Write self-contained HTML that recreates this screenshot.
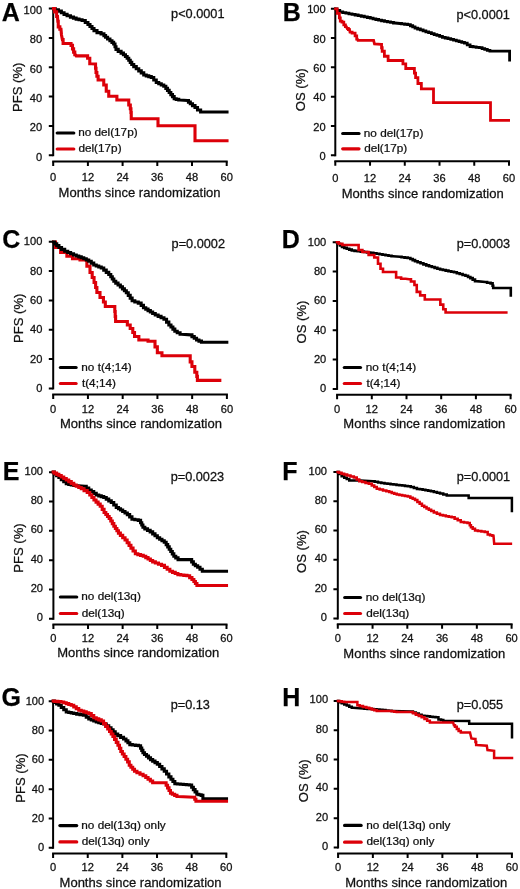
<!DOCTYPE html>
<html><head><meta charset="utf-8"><title>Kaplan-Meier survival curves</title>
<style>
html,body{margin:0;padding:0;background:#fff;}
body{width:520px;height:889px;overflow:hidden;}
svg{display:block;}
#w{width:520px;height:889px;will-change:transform;}
text{font-family:"Liberation Sans", sans-serif;fill:#111;stroke:#111;stroke-width:0.25px;}
.ax{fill:none;stroke:#000;stroke-width:2;}
.lg{fill:none;stroke:#000;stroke-width:3.2;stroke-linecap:round;}
.cv{fill:none;stroke-linejoin:miter;stroke-linecap:square;}
</style></head>
<body>
<div id="w">
<svg width="520" height="889" viewBox="0 0 520 889">
<rect width="520" height="889" fill="#fff"/>
<path d="M53.2 7.6V156.2" class="ax"/>
<path d="M48.8 155.2H53.2M48.8 125.88H53.2M48.8 96.56H53.2M48.8 67.24H53.2M48.8 37.92H53.2M48.8 8.6H53.2" class="ax"/>
<text transform="translate(42.1 160.53) scale(1.08 1)" text-anchor="end" style="font-size:10.3px">0</text>
<text transform="translate(42.1 131.21) scale(1.08 1)" text-anchor="end" style="font-size:10.3px">20</text>
<text transform="translate(42.1 101.89) scale(1.08 1)" text-anchor="end" style="font-size:10.3px">40</text>
<text transform="translate(42.1 72.57) scale(1.08 1)" text-anchor="end" style="font-size:10.3px">60</text>
<text transform="translate(42.1 43.25) scale(1.08 1)" text-anchor="end" style="font-size:10.3px">80</text>
<text transform="translate(42.1 13.93) scale(1.08 1)" text-anchor="end" style="font-size:10.3px">100</text>
<path d="M52.2 161.4H227.7" class="ax"/>
<path d="M53.2 161.4V165.9M87.9 161.4V165.9M122.6 161.4V165.9M157.3 161.4V165.9M192 161.4V165.9M226.7 161.4V165.9" class="ax"/>
<text transform="translate(53.2 181.16) scale(1.08 1)" text-anchor="middle" style="font-size:10.3px">0</text>
<text transform="translate(87.9 181.16) scale(1.08 1)" text-anchor="middle" style="font-size:10.3px">12</text>
<text transform="translate(122.6 181.16) scale(1.08 1)" text-anchor="middle" style="font-size:10.3px">24</text>
<text transform="translate(157.3 181.16) scale(1.08 1)" text-anchor="middle" style="font-size:10.3px">36</text>
<text transform="translate(192 181.16) scale(1.08 1)" text-anchor="middle" style="font-size:10.3px">48</text>
<text transform="translate(226.7 181.16) scale(1.08 1)" text-anchor="middle" style="font-size:10.3px">60</text>
<text transform="translate(58.56 196.59) scale(1.05 1)" style="font-size:12.4px">Months since randomization</text>
<text transform="translate(22.23 112.05) rotate(-90) scale(1.1 1)" style="font-size:11.9px">PFS (%)</text>
<text transform="translate(1.67 21.35)" style="font-size:25px;font-weight:bold;fill:#000">A</text>
<text transform="translate(171.07 18.48) scale(1.07 1)" style="font-size:11.9px">p&lt;0.0001</text>
<path d="M57.2 133H73.8" class="lg"/>
<path d="M57.2 149H73.8" class="lg" style="stroke:#dc0009"/>
<text transform="translate(78.13 136.1) scale(1.1 1)" style="font-size:10.7px">no del(17p)</text>
<text transform="translate(78.43 152.1) scale(1.1 1)" style="font-size:10.7px">del(17p)</text>
<path d="M53.5 8.6 L55.12 8.6 L55.12 9.85 L58.38 9.85 L58.38 11.1 L60 11.1 L61.35 11.1 L61.35 12.75 L64.05 12.75 L64.05 14.4 L65.4 14.4 L67.08 14.4 L67.08 15.75 L70.42 15.75 L70.42 17.1 L72.1 17.1 L73.45 17.1 L73.45 18.1 L76.15 18.1 L76.15 19.1 L77.5 19.1 L79.03 19.1 L79.03 19.8 L82.07 19.8 L82.07 20.5 L83.6 20.5 L85.25 20.5 L85.25 22.5 L86.9 22.5 L87.93 22.5 L87.93 24.5 L89.97 24.5 L89.97 26.5 L91 26.5 L92 26.5 L92 28.55 L94 28.55 L94 30.6 L95 30.6 L97 30.6 L97 32.6 L99 32.6 L101.05 32.6 L101.05 33.9 L103.1 33.9 L103.92 33.9 L103.92 35.6 L105.58 35.6 L105.58 37.3 L106.4 37.3 L107.58 37.3 L107.58 39 L109.92 39 L109.92 40.7 L111.1 40.7 L111.95 40.7 L111.95 42.35 L113.65 42.35 L113.65 44 L114.5 44 L115 44 L115 46.7 L116 46.7 L116 49.4 L116.5 49.4 L118.2 49.4 L118.2 51.4 L119.9 51.4 L121.08 51.4 L121.08 53.1 L123.42 53.1 L123.42 54.8 L124.6 54.8 L125.45 54.8 L125.45 56.5 L127.15 56.5 L127.15 58.2 L128 58.2 L128.75 58.2 L128.75 60.3 L130.25 60.3 L130.25 62.4 L131.75 62.4 L131.75 64.5 L132.5 64.5 L133.75 64.5 L133.75 66.62 L136.25 66.62 L136.25 68.75 L137.5 68.75 L138.75 68.75 L138.75 70.83 L141.25 70.83 L141.25 72.92 L143.75 72.92 L143.75 75 L145 75 L146.25 75 L146.25 75.83 L148.75 75.83 L148.75 76.67 L151.25 76.67 L151.25 77.5 L152.5 77.5 L153.75 77.5 L153.75 80 L156.25 80 L156.25 82.5 L157.5 82.5 L158.75 82.5 L158.75 83.75 L161.25 83.75 L161.25 85 L163.75 85 L163.75 86.25 L165 86.25 L165.83 86.25 L165.83 88.33 L167.5 88.33 L167.5 90.42 L169.17 90.42 L169.17 92.5 L170 92.5 L170.83 92.5 L170.83 94.58 L172.5 94.58 L172.5 96.67 L174.17 96.67 L174.17 98.75 L175 98.75 L176.25 98.75 L176.25 99.38 L178.75 99.38 L178.75 100 L180 100 L187.5 100.5 L188.44 100.5 L188.44 102.12 L190.31 102.12 L190.31 103.75 L191.25 103.75 L192.5 103.75 L192.5 105.62 L195 105.62 L195 107.5 L196.25 107.5 L197.5 107.5 L197.5 110 L198.75 110 L200.62 110 L200.62 112 L202.5 112 L227 112" class="cv" stroke="#000" stroke-width="3.1"/>
<path d="M53.5 8.6 L54.65 8.6 L54.65 11.9 L55.8 11.9 L56.65 11.9 L56.65 16.5 L57.5 16.5 L57.8 21.2 L58.25 21.2 L58.25 26.9 L58.7 26.9 L59.85 26.9 L59.85 29.2 L61 29.2 L61.5 35 L62.4 39.6 L63.1 39.6 L63.1 43.5 L63.8 43.5 L70.2 43.5 L71.05 43.5 L71.05 45.4 L71.9 45.4 L72.5 45.4 L72.5 48.9 L73.1 48.9 L73.6 48.9 L73.6 52.1 L74.1 52.1 L74.8 52.1 L74.8 54.8 L75.5 54.8 L76.2 55.9 L86.9 55.9 L87.6 55.9 L87.6 58.2 L88.3 58.2 L89.78 58.2 L89.78 63.75 L91.25 63.75 L95.3 64 L95.54 64 L95.54 68.25 L96.01 68.25 L96.01 72.5 L96.25 72.5 L96.88 72.5 L96.88 76.25 L98.12 76.25 L98.12 80 L98.75 80 L102.5 80 L103.75 80 L103.75 85 L105 85 L106.25 85 L106.25 91.25 L107.5 91.25 L108.75 91.25 L108.75 96.25 L110 96.25 L116.25 96.25 L116.88 96.25 L116.88 100 L117.5 100 L127.5 100 L128.75 100 L128.75 105 L130 105 L130.31 105 L130.31 108.75 L130.94 108.75 L130.94 112.5 L131.25 112.5 L131.25 118.75 L158 118.75 L158 125.75 L195 125.75 L195 140.75 L227 140.75" class="cv" stroke="#dc0009" stroke-width="3.1"/>
<path d="M335.3 7.7V156.3" class="ax"/>
<path d="M330.9 155.3H335.3M330.9 125.98H335.3M330.9 96.66H335.3M330.9 67.34H335.3M330.9 38.02H335.3M330.9 8.7H335.3" class="ax"/>
<text transform="translate(325.7 159.83) scale(1.08 1)" text-anchor="end" style="font-size:10.3px">0</text>
<text transform="translate(325.7 130.51) scale(1.08 1)" text-anchor="end" style="font-size:10.3px">20</text>
<text transform="translate(325.7 101.19) scale(1.08 1)" text-anchor="end" style="font-size:10.3px">40</text>
<text transform="translate(325.7 71.87) scale(1.08 1)" text-anchor="end" style="font-size:10.3px">60</text>
<text transform="translate(325.7 42.55) scale(1.08 1)" text-anchor="end" style="font-size:10.3px">80</text>
<text transform="translate(325.7 13.23) scale(1.08 1)" text-anchor="end" style="font-size:10.3px">100</text>
<path d="M334.3 161.3H510" class="ax"/>
<path d="M335.3 161.3V165.8M370.04 161.3V165.8M404.78 161.3V165.8M439.52 161.3V165.8M474.26 161.3V165.8M509 161.3V165.8" class="ax"/>
<text transform="translate(335.3 181.66) scale(1.08 1)" text-anchor="middle" style="font-size:10.3px">0</text>
<text transform="translate(370.04 181.66) scale(1.08 1)" text-anchor="middle" style="font-size:10.3px">12</text>
<text transform="translate(404.78 181.66) scale(1.08 1)" text-anchor="middle" style="font-size:10.3px">24</text>
<text transform="translate(439.52 181.66) scale(1.08 1)" text-anchor="middle" style="font-size:10.3px">36</text>
<text transform="translate(474.26 181.66) scale(1.08 1)" text-anchor="middle" style="font-size:10.3px">48</text>
<text transform="translate(509 181.66) scale(1.08 1)" text-anchor="middle" style="font-size:10.3px">60</text>
<text transform="translate(341.66 197.69) scale(1.05 1)" style="font-size:12.4px">Months since randomization</text>
<text transform="translate(305.43 111.19) rotate(-90) scale(1.1 1)" style="font-size:11.9px">OS (%)</text>
<text transform="translate(282.67 21.05)" style="font-size:25px;font-weight:bold;fill:#000">B</text>
<text transform="translate(456.47 18.73) scale(1.07 1)" style="font-size:11.9px">p&lt;0.0001</text>
<path d="M342.7 133.5H359" class="lg"/>
<path d="M342.7 148.8H359" class="lg" style="stroke:#dc0009"/>
<text transform="translate(363.83 136.6) scale(1.1 1)" style="font-size:10.7px">no del(17p)</text>
<text transform="translate(364.13 151.9) scale(1.1 1)" style="font-size:10.7px">del(17p)</text>
<path d="M335.5 8.8 L336.93 8.8 L336.93 10.35 L339.77 10.35 L339.77 11.9 L341.2 11.9 L342.75 11.9 L342.75 12.53 L345.85 12.53 L345.85 13.17 L348.95 13.17 L348.95 13.8 L350.5 13.8 L352.03 13.8 L352.03 14.4 L355.1 14.4 L355.1 15 L358.17 15 L358.17 15.6 L359.7 15.6 L361.23 15.6 L361.23 16.23 L364.3 16.23 L364.3 16.87 L367.37 16.87 L367.37 17.5 L368.9 17.5 L370.29 17.5 L370.29 18.18 L373.06 18.18 L373.06 18.85 L375.84 18.85 L375.84 19.52 L378.61 19.52 L378.61 20.2 L380 20.2 L381.5 20.2 L381.5 20.76 L384.5 20.76 L384.5 21.32 L387.5 21.32 L387.5 21.88 L390.5 21.88 L390.5 22.44 L393.5 22.44 L393.5 23 L395 23 L400 23.5 L401.53 23.5 L401.53 23.87 L404.6 23.87 L404.6 24.23 L407.67 24.23 L407.67 24.6 L409.2 24.6 L410.37 24.6 L410.37 25.77 L412.7 25.77 L412.7 26.93 L415.03 26.93 L415.03 28.1 L416.2 28.1 L417.58 28.1 L417.58 29.02 L420.34 29.02 L420.34 29.94 L423.1 29.94 L423.1 30.86 L425.86 30.86 L425.86 31.78 L428.62 31.78 L428.62 32.7 L430 32.7 L431.38 32.7 L431.38 33.62 L434.14 33.62 L434.14 34.54 L436.9 34.54 L436.9 35.46 L439.66 35.46 L439.66 36.38 L442.42 36.38 L442.42 37.3 L443.8 37.3 L445.19 37.3 L445.19 38 L447.97 38 L447.97 38.7 L450.75 38.7 L450.75 39.4 L453.53 39.4 L453.53 40.1 L456.31 40.1 L456.31 40.8 L457.7 40.8 L459.05 40.8 L459.05 41.57 L461.75 41.57 L461.75 42.33 L464.45 42.33 L464.45 43.1 L465.8 43.1 L467.23 43.1 L467.23 44.8 L470.07 44.8 L470.07 46.5 L471.5 46.5 L473.05 46.5 L473.05 46.9 L476.15 46.9 L476.15 47.3 L479.25 47.3 L479.25 47.7 L480.8 47.7 L482.1 47.7 L482.1 48.58 L484.7 48.58 L484.7 49.45 L487.3 49.45 L487.3 50.33 L489.9 50.33 L489.9 51.2 L491.2 51.2 L509.6 51.2 L509.6 60.1" class="cv" stroke="#000" stroke-width="2.8"/>
<path d="M335.5 8.8 L337.2 8.8 L337.2 13.3 L338.9 13.3 L339.35 13.3 L339.35 17.9 L339.8 17.9 L340.3 17.9 L340.3 21.2 L340.8 21.2 L341.95 21.2 L341.95 22.1 L343.1 22.1 L343.8 22.1 L343.8 24.9 L344.5 24.9 L345.4 24.9 L345.4 26.7 L346.3 26.7 L347.2 28.5 L348.35 28.5 L348.35 29.5 L349.5 29.5 L350 32.2 L352.1 32.2 L352.1 33.2 L354.2 33.2 L355.1 33.2 L355.1 35.9 L356 35.9 L356.7 35.9 L356.7 39.2 L357.4 39.2 L357.9 40.3 L373.6 40.3 L374.5 44 L381.25 44.3 L381.56 44.3 L381.56 47.77 L382.19 47.77 L382.19 51.25 L382.5 51.25 L384.38 51.25 L384.38 56.25 L386.25 56.25 L388.12 56.25 L388.12 60.5 L390 60.5 L401.25 60.5 L402.93 60.5 L402.93 63.8 L404.6 63.8 L405.75 63.8 L405.75 68.5 L406.9 68.5 L413.8 68.5 L414.4 68.5 L414.4 73.1 L415.6 73.1 L415.6 77.7 L416.2 77.7 L417.9 77.7 L417.9 83.5 L419.6 83.5 L421.35 83.5 L421.35 88.8 L423.1 88.8 L433.5 88.8 L433.5 102.6 L490.5 102.6 L490.5 120.4 L508.6 120.4" class="cv" stroke="#dc0009" stroke-width="2.8"/>
<path d="M53.2 240.8V389.4" class="ax"/>
<path d="M48.8 388.4H53.2M48.8 359.08H53.2M48.8 329.76H53.2M48.8 300.44H53.2M48.8 271.12H53.2M48.8 241.8H53.2" class="ax"/>
<text transform="translate(42.4 391.83) scale(1.08 1)" text-anchor="end" style="font-size:10.3px">0</text>
<text transform="translate(42.4 362.51) scale(1.08 1)" text-anchor="end" style="font-size:10.3px">20</text>
<text transform="translate(42.4 333.19) scale(1.08 1)" text-anchor="end" style="font-size:10.3px">40</text>
<text transform="translate(42.4 303.87) scale(1.08 1)" text-anchor="end" style="font-size:10.3px">60</text>
<text transform="translate(42.4 274.55) scale(1.08 1)" text-anchor="end" style="font-size:10.3px">80</text>
<text transform="translate(42.4 245.23) scale(1.08 1)" text-anchor="end" style="font-size:10.3px">100</text>
<path d="M52.2 394.4H227.9" class="ax"/>
<path d="M53.2 394.4V398.9M87.94 394.4V398.9M122.68 394.4V398.9M157.42 394.4V398.9M192.16 394.4V398.9M226.9 394.4V398.9" class="ax"/>
<text transform="translate(53.2 412.86) scale(1.08 1)" text-anchor="middle" style="font-size:10.3px">0</text>
<text transform="translate(87.94 412.86) scale(1.08 1)" text-anchor="middle" style="font-size:10.3px">12</text>
<text transform="translate(122.68 412.86) scale(1.08 1)" text-anchor="middle" style="font-size:10.3px">24</text>
<text transform="translate(157.42 412.86) scale(1.08 1)" text-anchor="middle" style="font-size:10.3px">36</text>
<text transform="translate(192.16 412.86) scale(1.08 1)" text-anchor="middle" style="font-size:10.3px">48</text>
<text transform="translate(226.9 412.86) scale(1.08 1)" text-anchor="middle" style="font-size:10.3px">60</text>
<text transform="translate(59.96 428.09) scale(1.05 1)" style="font-size:12.4px">Months since randomization</text>
<text transform="translate(22.63 343.05) rotate(-90) scale(1.1 1)" style="font-size:11.9px">PFS (%)</text>
<text transform="translate(2.2 248.4)" style="font-size:25px;font-weight:bold;fill:#000">C</text>
<text transform="translate(171.57 248.03) scale(1.07 1)" style="font-size:11.9px">p=0.0002</text>
<path d="M60.4 367.5H76.1" class="lg"/>
<path d="M60.4 383.5H76.1" class="lg" style="stroke:#dc0009"/>
<text transform="translate(81.33 370.6) scale(1.1 1)" style="font-size:10.7px">no t(4;14)</text>
<text transform="translate(81.92 386.6) scale(1.1 1)" style="font-size:10.7px">t(4;14)</text>
<path d="M53.5 242 L55.5 242 L55.5 247.5 L57.5 247.5 L60.62 247.5 L60.62 252.5 L63.75 252.5 L66.88 252.5 L66.88 256.25 L70 256.25 L72.5 256.25 L72.5 258.75 L75 258.75 L80 258.75 L80 260 L85 260 L86.88 260 L86.88 266.25 L88.75 266.25 L90 266.25 L90 272.5 L91.25 272.5 L92.19 272.5 L92.19 277.5 L94.06 277.5 L94.06 282.5 L95 282.5 L95.62 282.5 L95.62 287.5 L96.88 287.5 L96.88 292.5 L97.5 292.5 L100 292.5 L100 297.5 L102.5 297.5 L103.44 297.5 L103.44 302 L105.31 302 L105.31 306.5 L106.25 306.5 L114.6 306.5 L114.8 306.5 L114.8 311.5 L115.2 311.5 L115.2 316.5 L115.6 316.5 L115.6 321.5 L115.8 321.5 L126.2 321.5 L127.35 321.5 L127.35 325 L128.5 325 L130.2 325 L130.2 328.5 L131.9 328.5 L132.78 328.5 L132.78 332.5 L134.53 332.5 L134.53 336.5 L135.4 336.5 L138.85 336.5 L138.85 340 L142.3 340 L148.05 340 L148.05 341.2 L153.8 341.2 L155 341.2 L155 346.9 L156.2 346.9 L157.35 346.9 L157.35 352.7 L158.5 352.7 L161.95 352.7 L161.95 355.7 L165.4 355.7 L189.6 355.7 L190.2 355.7 L190.2 361.9 L190.8 361.9 L191.95 361.9 L191.95 366.5 L193.1 366.5 L194.8 366.5 L194.8 372.3 L196.5 372.3 L196.8 372.3 L196.8 376.35 L197.4 376.35 L197.4 380.4 L197.7 380.4 L219.8 380.4" class="cv" stroke="#dc0009" stroke-width="3.1"/>
<path d="M53.5 242 L54.58 242 L54.58 243.83 L56.75 243.83 L56.75 245.67 L58.92 245.67 L58.92 247.5 L60 247.5 L61.56 247.5 L61.56 249.38 L64.69 249.38 L64.69 251.25 L66.25 251.25 L67.71 251.25 L67.71 252.5 L70.62 252.5 L70.62 253.75 L73.54 253.75 L73.54 255 L75 255 L76.25 255 L76.25 255.94 L78.75 255.94 L78.75 256.88 L81.25 256.88 L81.25 257.81 L83.75 257.81 L83.75 258.75 L85 258.75 L86.25 258.75 L86.25 260 L88.75 260 L88.75 261.25 L90 261.25 L91.25 261.25 L91.25 263.12 L93.75 263.12 L93.75 265 L95 265 L96.25 265 L96.25 266 L98.75 266 L98.75 267 L101.25 267 L101.25 268 L102.5 268 L103.75 268 L103.75 270.17 L106.25 270.17 L106.25 272.33 L108.75 272.33 L108.75 274.5 L110 274.5 L110.77 274.5 L110.77 276.73 L112.3 276.73 L112.3 278.97 L113.83 278.97 L113.83 281.2 L114.6 281.2 L115.75 281.2 L115.75 283.1 L118.05 283.1 L118.05 285 L120.35 285 L120.35 286.9 L121.5 286.9 L122.47 286.9 L122.47 288.83 L124.4 288.83 L124.4 290.77 L126.33 290.77 L126.33 292.7 L127.3 292.7 L128.27 292.7 L128.27 295.4 L130.2 295.4 L130.2 298.1 L132.13 298.1 L132.13 300.8 L133.1 300.8 L134.82 300.8 L134.82 301.95 L138.28 301.95 L138.28 303.1 L140 303.1 L141.15 303.1 L141.15 305.4 L143.45 305.4 L143.45 307.7 L144.6 307.7 L145.75 307.7 L145.75 309.15 L148.05 309.15 L148.05 310.6 L150.35 310.6 L150.35 312.05 L152.65 312.05 L152.65 313.5 L153.8 313.5 L155.25 313.5 L155.25 314.93 L158.15 314.93 L158.15 316.35 L161.05 316.35 L161.05 317.77 L163.95 317.77 L163.95 319.2 L165.4 319.2 L166.55 319.2 L166.55 322.1 L168.85 322.1 L168.85 325 L170 325 L170.97 325 L170.97 327.07 L172.9 327.07 L172.9 329.13 L174.83 329.13 L174.83 331.2 L175.8 331.2 L177.23 331.2 L177.23 332.7 L180.07 332.7 L180.07 334.2 L181.5 334.2 L190.8 334.9 L191.95 334.9 L191.95 336.6 L194.25 336.6 L194.25 338.3 L196.55 338.3 L196.55 340 L197.7 340 L198.95 340 L198.95 341.15 L201.45 341.15 L201.45 342.3 L202.7 342.3 L226.8 342.3" class="cv" stroke="#000" stroke-width="3.1"/>
<path d="M337.1 241.3V389.9" class="ax"/>
<path d="M332.7 388.9H337.1M332.7 359.58H337.1M332.7 330.26H337.1M332.7 300.94H337.1M332.7 271.62H337.1M332.7 242.3H337.1" class="ax"/>
<text transform="translate(326.3 392.43) scale(1.08 1)" text-anchor="end" style="font-size:10.3px">0</text>
<text transform="translate(326.3 363.11) scale(1.08 1)" text-anchor="end" style="font-size:10.3px">20</text>
<text transform="translate(326.3 333.79) scale(1.08 1)" text-anchor="end" style="font-size:10.3px">40</text>
<text transform="translate(326.3 304.47) scale(1.08 1)" text-anchor="end" style="font-size:10.3px">60</text>
<text transform="translate(326.3 275.15) scale(1.08 1)" text-anchor="end" style="font-size:10.3px">80</text>
<text transform="translate(326.3 245.83) scale(1.08 1)" text-anchor="end" style="font-size:10.3px">100</text>
<path d="M336.1 394.7H511.6" class="ax"/>
<path d="M337.1 394.7V399.2M371.8 394.7V399.2M406.5 394.7V399.2M441.2 394.7V399.2M475.9 394.7V399.2M510.6 394.7V399.2" class="ax"/>
<text transform="translate(337.1 412.86) scale(1.08 1)" text-anchor="middle" style="font-size:10.3px">0</text>
<text transform="translate(371.8 412.86) scale(1.08 1)" text-anchor="middle" style="font-size:10.3px">12</text>
<text transform="translate(406.5 412.86) scale(1.08 1)" text-anchor="middle" style="font-size:10.3px">24</text>
<text transform="translate(441.2 412.86) scale(1.08 1)" text-anchor="middle" style="font-size:10.3px">36</text>
<text transform="translate(475.9 412.86) scale(1.08 1)" text-anchor="middle" style="font-size:10.3px">48</text>
<text transform="translate(510.6 412.86) scale(1.08 1)" text-anchor="middle" style="font-size:10.3px">60</text>
<text transform="translate(343.36 428.39) scale(1.05 1)" style="font-size:12.4px">Months since randomization</text>
<text transform="translate(306.03 343.49) rotate(-90) scale(1.1 1)" style="font-size:11.9px">OS (%)</text>
<text transform="translate(281.77 248.25)" style="font-size:25px;font-weight:bold;fill:#000">D</text>
<text transform="translate(456.77 248.03) scale(1.07 1)" style="font-size:11.9px">p=0.0003</text>
<path d="M344.3 367.5H360.5" class="lg"/>
<path d="M344.3 383.5H360.5" class="lg" style="stroke:#dc0009"/>
<text transform="translate(365.83 370.6) scale(1.1 1)" style="font-size:10.7px">no t(4;14)</text>
<text transform="translate(366.42 386.6) scale(1.1 1)" style="font-size:10.7px">t(4;14)</text>
<path d="M337 242.3 L338 242.3 L338 243.87 L340 243.87 L340 245.43 L342 245.43 L342 247 L343 247 L344.25 247 L344.25 247.88 L346.75 247.88 L346.75 248.75 L349.25 248.75 L349.25 249.62 L351.75 249.62 L351.75 250.5 L353 250.5 L354.56 250.5 L354.56 250.88 L357.69 250.88 L357.69 251.25 L360.81 251.25 L360.81 251.62 L363.94 251.62 L363.94 252 L365.5 252 L367.06 252 L367.06 252.44 L370.19 252.44 L370.19 252.88 L373.31 252.88 L373.31 253.31 L376.44 253.31 L376.44 253.75 L378 253.75 L379.5 253.75 L379.5 254.25 L382.5 254.25 L382.5 254.75 L385.5 254.75 L385.5 255.25 L388.5 255.25 L388.5 255.75 L391.5 255.75 L391.5 256.25 L393 256.25 L400 256.8 L401.53 256.8 L401.53 257.2 L404.6 257.2 L404.6 257.6 L407.67 257.6 L407.67 258 L409.2 258 L410.37 258 L410.37 259.07 L412.7 259.07 L412.7 260.13 L415.03 260.13 L415.03 261.2 L416.2 261.2 L417.64 261.2 L417.64 262.25 L420.51 262.25 L420.51 263.3 L423.39 263.3 L423.39 264.35 L426.26 264.35 L426.26 265.4 L427.7 265.4 L429.08 265.4 L429.08 266.22 L431.84 266.22 L431.84 267.04 L434.6 267.04 L434.6 267.86 L437.36 267.86 L437.36 268.68 L440.12 268.68 L440.12 269.5 L441.5 269.5 L442.89 269.5 L442.89 270.06 L445.67 270.06 L445.67 270.62 L448.45 270.62 L448.45 271.18 L451.23 271.18 L451.23 271.74 L454.01 271.74 L454.01 272.3 L455.4 272.3 L456.84 272.3 L456.84 273.18 L459.71 273.18 L459.71 274.05 L462.59 274.05 L462.59 274.93 L465.46 274.93 L465.46 275.8 L466.9 275.8 L468.05 275.8 L468.05 276.95 L470.35 276.95 L470.35 278.1 L471.5 278.1 L472.68 278.1 L472.68 279.6 L475.02 279.6 L475.02 281.1 L476.2 281.1 L485.4 282 L487.12 282 L487.12 282.7 L490.57 282.7 L490.57 283.4 L492.3 283.4 L492.6 283.4 L492.6 285.7 L493.2 285.7 L493.2 288 L493.5 288 L510.8 288 L510.8 295.5" class="cv" stroke="#000" stroke-width="2.6"/>
<path d="M337 242.3 L338.75 242.3 L338.75 243.75 L340.5 243.75 L342.38 243.75 L342.38 245 L344.25 245 L358 245 L358.62 245 L358.62 250 L359.25 250 L362.38 250 L362.38 252 L365.5 252 L368.62 252 L368.62 255 L371.75 255 L374.25 255 L374.25 257.5 L376.75 257.5 L378 257.5 L378 263.75 L379.25 263.75 L380.5 263.75 L380.5 268.75 L381.75 268.75 L383 268.75 L383 272 L384.25 272 L395.5 272 L396.12 272 L396.12 277.5 L396.75 277.5 L401.12 277.5 L401.12 278.75 L405.5 278.75 L409.2 279.2 L410.95 279.2 L410.95 281.5 L412.7 281.5 L414.45 281.5 L414.45 285 L416.2 285 L416.75 285 L416.75 291.9 L417.3 291.9 L420.2 291.9 L420.2 295.4 L423.1 295.4 L424.8 295.4 L424.8 299.5 L426.5 299.5 L439.2 299.5 L440.35 299.5 L440.35 304.6 L441.5 304.6 L443.25 304.6 L443.25 309.2 L445 309.2 L445.6 309.2 L445.6 312.5 L446.2 312.5 L506.3 312.5" class="cv" stroke="#dc0009" stroke-width="2.6"/>
<path d="M53.4 471.2V619.8" class="ax"/>
<path d="M49 618.8H53.4M49 589.48H53.4M49 560.16H53.4M49 530.84H53.4M49 501.52H53.4M49 472.2H53.4" class="ax"/>
<text transform="translate(43 621.43) scale(1.08 1)" text-anchor="end" style="font-size:10.3px">0</text>
<text transform="translate(43 592.11) scale(1.08 1)" text-anchor="end" style="font-size:10.3px">20</text>
<text transform="translate(43 562.79) scale(1.08 1)" text-anchor="end" style="font-size:10.3px">40</text>
<text transform="translate(43 533.47) scale(1.08 1)" text-anchor="end" style="font-size:10.3px">60</text>
<text transform="translate(43 504.15) scale(1.08 1)" text-anchor="end" style="font-size:10.3px">80</text>
<text transform="translate(43 474.83) scale(1.08 1)" text-anchor="end" style="font-size:10.3px">100</text>
<path d="M52.4 624.6H227.5" class="ax"/>
<path d="M53.4 624.6V629.1M88.02 624.6V629.1M122.64 624.6V629.1M157.26 624.6V629.1M191.88 624.6V629.1M226.5 624.6V629.1" class="ax"/>
<text transform="translate(53.4 642.06) scale(1.08 1)" text-anchor="middle" style="font-size:10.3px">0</text>
<text transform="translate(88.02 642.06) scale(1.08 1)" text-anchor="middle" style="font-size:10.3px">12</text>
<text transform="translate(122.64 642.06) scale(1.08 1)" text-anchor="middle" style="font-size:10.3px">24</text>
<text transform="translate(157.26 642.06) scale(1.08 1)" text-anchor="middle" style="font-size:10.3px">36</text>
<text transform="translate(191.88 642.06) scale(1.08 1)" text-anchor="middle" style="font-size:10.3px">48</text>
<text transform="translate(226.5 642.06) scale(1.08 1)" text-anchor="middle" style="font-size:10.3px">60</text>
<text transform="translate(57.26 657.49) scale(1.05 1)" style="font-size:12.4px">Months since randomization</text>
<text transform="translate(22.63 572.75) rotate(-90) scale(1.1 1)" style="font-size:11.9px">PFS (%)</text>
<text transform="translate(2.78 479.55)" style="font-size:25px;font-weight:bold;fill:#000">E</text>
<text transform="translate(170.67 481.33) scale(1.07 1)" style="font-size:11.9px">p=0.0023</text>
<path d="M60.4 597H76.7" class="lg"/>
<path d="M60.4 613.5H76.7" class="lg" style="stroke:#dc0009"/>
<text transform="translate(81.33 600.1) scale(1.1 1)" style="font-size:10.7px">no del(13q)</text>
<text transform="translate(81.63 616.6) scale(1.1 1)" style="font-size:10.7px">del(13q)</text>
<path d="M53.2 472 L54.33 472 L54.33 473.83 L56.6 473.83 L56.6 475.67 L58.87 475.67 L58.87 477.5 L60 477.5 L61.25 477.5 L61.25 479.58 L63.75 479.58 L63.75 481.67 L66.25 481.67 L66.25 483.75 L67.5 483.75 L68.75 483.75 L68.75 484.33 L71.25 484.33 L71.25 484.92 L73.75 484.92 L73.75 485.5 L75 485.5 L85 486.25 L86.25 486.25 L86.25 488.12 L88.75 488.12 L88.75 490 L90 490 L91.25 490 L91.25 491.67 L93.75 491.67 L93.75 493.33 L96.25 493.33 L96.25 495 L97.5 495 L98.75 495 L98.75 495.83 L101.25 495.83 L101.25 496.67 L103.75 496.67 L103.75 497.5 L105 497.5 L106.25 497.5 L106.25 499.17 L108.75 499.17 L108.75 500.83 L111.25 500.83 L111.25 502.5 L112.5 502.5 L113.75 502.5 L113.75 505 L116.25 505 L116.25 507.5 L117.5 507.5 L118.5 507.5 L118.5 508.75 L120.5 508.75 L120.5 510 L121.5 510 L122.67 510 L122.67 511.53 L125 511.53 L125 513.07 L127.33 513.07 L127.33 514.6 L128.5 514.6 L129.65 514.6 L129.65 516.9 L131.95 516.9 L131.95 519.2 L133.1 519.2 L134.82 519.2 L134.82 519.8 L138.28 519.8 L138.28 520.4 L140 520.4 L140.58 520.4 L140.58 522.7 L141.75 522.7 L141.75 525 L142.92 525 L142.92 527.3 L143.5 527.3 L144.83 527.3 L144.83 528.83 L147.5 528.83 L147.5 530.37 L150.17 530.37 L150.17 531.9 L151.5 531.9 L152.67 531.9 L152.67 533.83 L155 533.83 L155 535.77 L157.33 535.77 L157.33 537.7 L158.5 537.7 L159.65 537.7 L159.65 539.23 L161.95 539.23 L161.95 540.77 L164.25 540.77 L164.25 542.3 L165.4 542.3 L166.17 542.3 L166.17 544.6 L167.7 544.6 L167.7 546.9 L169.23 546.9 L169.23 549.2 L170 549.2 L170.77 549.2 L170.77 551.53 L172.3 551.53 L172.3 553.87 L173.83 553.87 L173.83 556.2 L174.6 556.2 L175.75 556.2 L175.75 557.9 L178.05 557.9 L178.05 559.6 L179.2 559.6 L190.8 559.6 L191.65 559.6 L191.65 561.9 L193.35 561.9 L193.35 564.2 L194.2 564.2 L195.35 564.2 L195.35 565.7 L197.65 565.7 L197.65 567.2 L198.8 567.2 L199.98 567.2 L199.98 569.2 L202.32 569.2 L202.32 571.2 L203.5 571.2 L226.5 571.2" class="cv" stroke="#000" stroke-width="3.1"/>
<path d="M53.2 472 L54.33 472 L54.33 473.17 L56.6 473.17 L56.6 474.33 L58.87 474.33 L58.87 475.5 L60 475.5 L61.25 475.5 L61.25 477 L63.75 477 L63.75 478.5 L66.25 478.5 L66.25 480 L67.5 480 L68.75 480 L68.75 481.67 L71.25 481.67 L71.25 483.33 L73.75 483.33 L73.75 485 L75 485 L76.25 485 L76.25 486.25 L78.75 486.25 L78.75 487.5 L81.25 487.5 L81.25 488.75 L82.5 488.75 L84.06 488.75 L84.06 490.62 L87.19 490.62 L87.19 492.5 L88.75 492.5 L89.79 492.5 L89.79 495 L91.88 495 L91.88 497.5 L93.96 497.5 L93.96 500 L95 500 L96.04 500 L96.04 502.08 L98.12 502.08 L98.12 504.17 L100.21 504.17 L100.21 506.25 L101.25 506.25 L102.19 506.25 L102.19 509.38 L104.06 509.38 L104.06 512.5 L105 512.5 L105.83 512.5 L105.83 514.5 L107.5 514.5 L107.5 516.5 L109.17 516.5 L109.17 518.5 L110 518.5 L110.77 518.5 L110.77 521.07 L112.3 521.07 L112.3 523.63 L113.83 523.63 L113.83 526.2 L114.6 526.2 L115.37 526.2 L115.37 528.5 L116.9 528.5 L116.9 530.8 L118.43 530.8 L118.43 533.1 L119.2 533.1 L120.37 533.1 L120.37 535.4 L122.7 535.4 L122.7 537.7 L125.03 537.7 L125.03 540 L126.2 540 L127.15 540 L127.15 542.7 L129.05 542.7 L129.05 545.4 L130.95 545.4 L130.95 548.1 L131.9 548.1 L133.05 548.1 L133.05 550.95 L135.35 550.95 L135.35 553.8 L136.5 553.8 L137.85 553.8 L137.85 554.6 L140.55 554.6 L140.55 555.4 L143.25 555.4 L143.25 556.2 L144.6 556.2 L145.75 556.2 L145.75 557.62 L148.05 557.62 L148.05 559.05 L150.35 559.05 L150.35 560.48 L152.65 560.48 L152.65 561.9 L153.8 561.9 L155.35 561.9 L155.35 563.07 L158.45 563.07 L158.45 564.23 L161.55 564.23 L161.55 565.4 L163.1 565.4 L164.45 565.4 L164.45 567.33 L167.15 567.33 L167.15 569.27 L169.85 569.27 L169.85 571.2 L171.2 571.2 L172.53 571.2 L172.53 572.33 L175.2 572.33 L175.2 573.47 L177.87 573.47 L177.87 574.6 L179.2 574.6 L180.75 574.6 L180.75 575 L183.85 575 L183.85 575.4 L186.95 575.4 L186.95 575.8 L188.5 575.8 L189.65 575.8 L189.65 577.65 L191.95 577.65 L191.95 579.5 L193.1 579.5 L193.87 579.5 L193.87 581.5 L195.4 581.5 L195.4 583.5 L196.93 583.5 L196.93 585.5 L197.7 585.5 L226.5 585.5" class="cv" stroke="#dc0009" stroke-width="3.1"/>
<path d="M337.8 470.9V619.5" class="ax"/>
<path d="M333.4 618.5H337.8M333.4 589.18H337.8M333.4 559.86H337.8M333.4 530.54H337.8M333.4 501.22H337.8M333.4 471.9H337.8" class="ax"/>
<text transform="translate(327 621.13) scale(1.08 1)" text-anchor="end" style="font-size:10.3px">0</text>
<text transform="translate(327 591.81) scale(1.08 1)" text-anchor="end" style="font-size:10.3px">20</text>
<text transform="translate(327 562.49) scale(1.08 1)" text-anchor="end" style="font-size:10.3px">40</text>
<text transform="translate(327 533.17) scale(1.08 1)" text-anchor="end" style="font-size:10.3px">60</text>
<text transform="translate(327 503.85) scale(1.08 1)" text-anchor="end" style="font-size:10.3px">80</text>
<text transform="translate(327 474.53) scale(1.08 1)" text-anchor="end" style="font-size:10.3px">100</text>
<path d="M336.8 624.2H512.6" class="ax"/>
<path d="M337.8 624.2V628.7M372.56 624.2V628.7M407.32 624.2V628.7M442.08 624.2V628.7M476.84 624.2V628.7M511.6 624.2V628.7" class="ax"/>
<text transform="translate(337.8 642.26) scale(1.08 1)" text-anchor="middle" style="font-size:10.3px">0</text>
<text transform="translate(372.56 642.26) scale(1.08 1)" text-anchor="middle" style="font-size:10.3px">12</text>
<text transform="translate(407.32 642.26) scale(1.08 1)" text-anchor="middle" style="font-size:10.3px">24</text>
<text transform="translate(442.08 642.26) scale(1.08 1)" text-anchor="middle" style="font-size:10.3px">36</text>
<text transform="translate(476.84 642.26) scale(1.08 1)" text-anchor="middle" style="font-size:10.3px">48</text>
<text transform="translate(511.6 642.26) scale(1.08 1)" text-anchor="middle" style="font-size:10.3px">60</text>
<text transform="translate(343.36 657.89) scale(1.05 1)" style="font-size:12.4px">Months since randomization</text>
<text transform="translate(306.43 572.99) rotate(-90) scale(1.1 1)" style="font-size:11.9px">OS (%)</text>
<text transform="translate(282.27 479.55)" style="font-size:25px;font-weight:bold;fill:#000">F</text>
<text transform="translate(456.77 481.33) scale(1.07 1)" style="font-size:11.9px">p=0.0001</text>
<path d="M344.7 597.5H360.5" class="lg"/>
<path d="M344.7 613.5H360.5" class="lg" style="stroke:#dc0009"/>
<text transform="translate(365.83 600.6) scale(1.1 1)" style="font-size:10.7px">no del(13q)</text>
<text transform="translate(366.13 616.6) scale(1.1 1)" style="font-size:10.7px">del(13q)</text>
<path d="M337.6 472 L338.95 472 L338.95 474.12 L341.65 474.12 L341.65 476.25 L343 476.25 L344.25 476.25 L344.25 477.67 L346.75 477.67 L346.75 479.08 L349.25 479.08 L349.25 480.5 L350.5 480.5 L360.5 480.5 L373 481.25 L374.67 481.25 L374.67 481.83 L378 481.83 L378 482.42 L381.33 482.42 L381.33 483 L383 483 L384.5 483 L384.5 483.4 L387.5 483.4 L387.5 483.8 L390.5 483.8 L390.5 484.2 L393.5 484.2 L393.5 484.6 L396.5 484.6 L396.5 485 L398 485 L399.4 485 L399.4 485.3 L402.2 485.3 L402.2 485.6 L405 485.6 L405 485.9 L407.8 485.9 L407.8 486.2 L409.2 486.2 L410.75 486.2 L410.75 487.1 L413.85 487.1 L413.85 488 L416.95 488 L416.95 488.9 L418.5 488.9 L419.88 488.9 L419.88 489.36 L422.64 489.36 L422.64 489.82 L425.4 489.82 L425.4 490.28 L428.16 490.28 L428.16 490.74 L430.92 490.74 L430.92 491.2 L432.3 491.2 L433.83 491.2 L433.83 492 L436.9 492 L436.9 492.8 L439.97 492.8 L439.97 493.6 L441.5 493.6 L443.25 493.6 L443.25 494.6 L446.75 494.6 L446.75 495.6 L448.5 495.6 L468.1 495.6 L468.65 495.6 L468.65 498 L469.2 498 L511.9 498 L511.9 511" class="cv" stroke="#000" stroke-width="2.5"/>
<path d="M337.6 472 L338.92 472 L338.92 472.83 L341.55 472.83 L341.55 473.67 L344.18 473.67 L344.18 474.5 L345.5 474.5 L347.17 474.5 L347.17 475.5 L350.5 475.5 L350.5 476.5 L353.83 476.5 L353.83 477.5 L355.5 477.5 L356.75 477.5 L356.75 479.38 L359.25 479.38 L359.25 481.25 L360.5 481.25 L362.17 481.25 L362.17 482.08 L365.5 482.08 L365.5 482.92 L368.83 482.92 L368.83 483.75 L370.5 483.75 L371.75 483.75 L371.75 485.42 L374.25 485.42 L374.25 487.08 L376.75 487.08 L376.75 488.75 L378 488.75 L379.67 488.75 L379.67 489.58 L383 489.58 L383 490.42 L386.33 490.42 L386.33 491.25 L388 491.25 L389.25 491.25 L389.25 492.06 L391.75 492.06 L391.75 492.88 L394.25 492.88 L394.25 493.69 L396.75 493.69 L396.75 494.5 L398 494.5 L399.4 494.5 L399.4 495 L402.2 495 L402.2 495.5 L405 495.5 L405 496 L407.8 496 L407.8 496.5 L409.2 496.5 L410.37 496.5 L410.37 497.67 L412.7 497.67 L412.7 498.83 L415.03 498.83 L415.03 500 L416.2 500 L417.35 500 L417.35 501.93 L419.65 501.93 L419.65 503.87 L421.95 503.87 L421.95 505.8 L423.1 505.8 L424.25 505.8 L424.25 507.12 L426.55 507.12 L426.55 508.45 L428.85 508.45 L428.85 509.78 L431.15 509.78 L431.15 511.1 L432.3 511.1 L433.83 511.1 L433.83 512.4 L436.9 512.4 L436.9 513.7 L439.97 513.7 L439.97 515 L441.5 515 L442.95 515 L442.95 515.58 L445.85 515.58 L445.85 516.15 L448.75 516.15 L448.75 516.72 L451.65 516.72 L451.65 517.3 L453.1 517.3 L454.63 517.3 L454.63 518.83 L457.7 518.83 L457.7 520.37 L460.77 520.37 L460.77 521.9 L462.3 521.9 L464.02 521.9 L464.02 522.5 L467.48 522.5 L467.48 523.1 L469.2 523.1 L469.77 523.1 L469.77 525.15 L470.93 525.15 L470.93 527.2 L471.5 527.2 L472.68 527.2 L472.68 528.85 L475.02 528.85 L475.02 530.5 L476.2 530.5 L477.92 530.5 L477.92 530.97 L481.35 530.97 L481.35 531.43 L484.78 531.43 L484.78 531.9 L486.5 531.9 L487.7 531.9 L487.7 534.6 L488.9 534.6 L490.05 534.6 L490.05 535.2 L492.35 535.2 L492.35 535.8 L493.5 535.8 L494.2 543.8 L510.9 543.8" class="cv" stroke="#dc0009" stroke-width="2.5"/>
<path d="M53.1 700.2V848.8" class="ax"/>
<path d="M48.7 847.8H53.1M48.7 818.48H53.1M48.7 789.16H53.1M48.7 759.84H53.1M48.7 730.52H53.1M48.7 701.2H53.1" class="ax"/>
<text transform="translate(44.2 851.43) scale(1.08 1)" text-anchor="end" style="font-size:10.3px">0</text>
<text transform="translate(44.2 822.11) scale(1.08 1)" text-anchor="end" style="font-size:10.3px">20</text>
<text transform="translate(44.2 792.79) scale(1.08 1)" text-anchor="end" style="font-size:10.3px">40</text>
<text transform="translate(44.2 763.47) scale(1.08 1)" text-anchor="end" style="font-size:10.3px">60</text>
<text transform="translate(44.2 734.15) scale(1.08 1)" text-anchor="end" style="font-size:10.3px">80</text>
<text transform="translate(44.2 704.83) scale(1.08 1)" text-anchor="end" style="font-size:10.3px">100</text>
<path d="M52.1 853.5H227.3" class="ax"/>
<path d="M53.1 853.5V858M87.74 853.5V858M122.38 853.5V858M157.02 853.5V858M191.66 853.5V858M226.3 853.5V858" class="ax"/>
<text transform="translate(53.1 871.46) scale(1.08 1)" text-anchor="middle" style="font-size:10.3px">0</text>
<text transform="translate(87.74 871.46) scale(1.08 1)" text-anchor="middle" style="font-size:10.3px">12</text>
<text transform="translate(122.38 871.46) scale(1.08 1)" text-anchor="middle" style="font-size:10.3px">24</text>
<text transform="translate(157.02 871.46) scale(1.08 1)" text-anchor="middle" style="font-size:10.3px">36</text>
<text transform="translate(191.66 871.46) scale(1.08 1)" text-anchor="middle" style="font-size:10.3px">48</text>
<text transform="translate(226.3 871.46) scale(1.08 1)" text-anchor="middle" style="font-size:10.3px">60</text>
<text transform="translate(59.56 886.89) scale(1.05 1)" style="font-size:12.4px">Months since randomization</text>
<text transform="translate(24.63 802.75) rotate(-90) scale(1.1 1)" style="font-size:11.9px">PFS (%)</text>
<text transform="translate(1.5 706.4)" style="font-size:25px;font-weight:bold;fill:#000">G</text>
<text transform="translate(170.67 709.23) scale(1.07 1)" style="font-size:11.9px">p=0.13</text>
<path d="M59.9 825.6H76.7" class="lg"/>
<path d="M59.9 841.9H76.7" class="lg" style="stroke:#dc0009"/>
<text transform="translate(81.33 828.7) scale(1.1 1)" style="font-size:10.7px">no del(13q) only</text>
<text transform="translate(81.63 845) scale(1.1 1)" style="font-size:10.7px">del(13q) only</text>
<path d="M53.2 701 L54.33 701 L54.33 702.42 L56.6 702.42 L56.6 703.83 L58.87 703.83 L58.87 705.25 L60 705.25 L61.25 705.25 L61.25 707.5 L63.75 707.5 L63.75 709.75 L66.25 709.75 L66.25 712 L67.5 712 L68.75 712 L68.75 712.5 L71.25 712.5 L71.25 713 L73.75 713 L73.75 713.5 L75 713.5 L76.67 713.5 L76.67 714.08 L80 714.08 L80 714.67 L83.33 714.67 L83.33 715.25 L85 715.25 L86.25 715.25 L86.25 717.12 L88.75 717.12 L88.75 719 L90 719 L91.25 719 L91.25 720 L93.75 720 L93.75 721 L96.25 721 L96.25 722 L97.5 722 L98.75 722 L98.75 722.67 L101.25 722.67 L101.25 723.33 L103.75 723.33 L103.75 724 L105 724 L106.25 724 L106.25 725.88 L108.75 725.88 L108.75 727.75 L110 727.75 L111.04 727.75 L111.04 729.83 L113.12 729.83 L113.12 731.92 L115.21 731.92 L115.21 734 L116.25 734 L117.71 734 L117.71 735.67 L120.62 735.67 L120.62 737.33 L123.54 737.33 L123.54 739 L125 739 L125.97 739 L125.97 740.87 L127.9 740.87 L127.9 742.73 L129.83 742.73 L129.83 744.6 L130.8 744.6 L132.33 744.6 L132.33 745 L135.4 745 L135.4 745.4 L138.47 745.4 L138.47 745.8 L140 745.8 L140.58 745.8 L140.58 748.1 L141.75 748.1 L141.75 750.4 L142.92 750.4 L142.92 752.7 L143.5 752.7 L144.5 752.7 L144.5 754.43 L146.5 754.43 L146.5 756.15 L148.5 756.15 L148.5 757.88 L150.5 757.88 L150.5 759.6 L151.5 759.6 L152.67 759.6 L152.67 761.13 L155 761.13 L155 762.67 L157.33 762.67 L157.33 764.2 L158.5 764.2 L159.65 764.2 L159.65 766.53 L161.95 766.53 L161.95 768.87 L164.25 768.87 L164.25 771.2 L165.4 771.2 L166.55 771.2 L166.55 774.05 L168.85 774.05 L168.85 776.9 L170 776.9 L170.97 776.9 L170.97 779.2 L172.9 779.2 L172.9 781.5 L174.83 781.5 L174.83 783.8 L175.8 783.8 L177.3 783.8 L177.3 784.04 L180.3 784.04 L180.3 784.28 L183.3 784.28 L183.3 784.52 L186.3 784.52 L186.3 784.76 L189.3 784.76 L189.3 785 L190.8 785 L191.65 785 L191.65 787.3 L193.35 787.3 L193.35 789.6 L194.2 789.6 L195.07 789.6 L195.07 791.9 L196.82 791.9 L196.82 794.2 L197.7 794.2 L198.85 794.2 L198.85 794.8 L201.15 794.8 L201.15 795.4 L202.3 795.4 L202.9 795.4 L202.9 798.8 L203.5 798.8 L226.5 798.8" class="cv" stroke="#000" stroke-width="3.1"/>
<path d="M53.2 701 L54.75 701 L54.75 701.33 L57.85 701.33 L57.85 701.67 L60.95 701.67 L60.95 702 L62.5 702 L63.75 702 L63.75 702.81 L66.25 702.81 L66.25 703.62 L68.75 703.62 L68.75 704.44 L71.25 704.44 L71.25 705.25 L72.5 705.25 L73.75 705.25 L73.75 706.92 L76.25 706.92 L76.25 708.58 L78.75 708.58 L78.75 710.25 L80 710.25 L81.25 710.25 L81.25 711.06 L83.75 711.06 L83.75 711.88 L86.25 711.88 L86.25 712.69 L88.75 712.69 L88.75 713.5 L90 713.5 L91.25 713.5 L91.25 715.62 L93.75 715.62 L93.75 717.75 L95 717.75 L96.25 717.75 L96.25 718.83 L98.75 718.83 L98.75 719.92 L101.25 719.92 L101.25 721 L102.5 721 L103.54 721 L103.54 723.67 L105.62 723.67 L105.62 726.33 L107.71 726.33 L107.71 729 L108.75 729 L109.58 729 L109.58 731.5 L111.25 731.5 L111.25 734 L112.92 734 L112.92 736.5 L113.75 736.5 L114.58 736.5 L114.58 739.42 L116.25 739.42 L116.25 742.33 L117.92 742.33 L117.92 745.25 L118.75 745.25 L119.44 745.25 L119.44 748.38 L120.81 748.38 L120.81 751.5 L121.5 751.5 L122.38 751.5 L122.38 754 L124.12 754 L124.12 756.5 L125 756.5 L125.88 756.5 L125.88 759.2 L127.62 759.2 L127.62 761.9 L128.5 761.9 L129.25 761.9 L129.25 765.25 L130 765.25 L130.9 765.25 L130.9 767.23 L132.7 767.23 L132.7 769.22 L134.5 769.22 L134.5 771.2 L135.4 771.2 L136.93 771.2 L136.93 772.73 L140 772.73 L140 774.27 L143.07 774.27 L143.07 775.8 L144.6 775.8 L145.75 775.8 L145.75 777.52 L148.05 777.52 L148.05 779.25 L150.35 779.25 L150.35 780.98 L152.65 780.98 L152.65 782.7 L153.8 782.7 L165.4 782.7 L166.12 782.7 L166.12 785.3 L167.57 785.3 L167.57 787.9 L169.03 787.9 L169.03 790.5 L170.47 790.5 L170.47 793.1 L171.2 793.1 L172.35 793.1 L172.35 794.23 L174.65 794.23 L174.65 795.37 L176.95 795.37 L176.95 796.5 L178.1 796.5 L194.2 797.2 L194.77 797.2 L194.77 799.2 L195.93 799.2 L195.93 801.2 L196.5 801.2 L226.5 801.2" class="cv" stroke="#dc0009" stroke-width="3.1"/>
<path d="M338.1 699.9V848.5" class="ax"/>
<path d="M333.7 847.5H338.1M333.7 818.18H338.1M333.7 788.86H338.1M333.7 759.54H338.1M333.7 730.22H338.1M333.7 700.9H338.1" class="ax"/>
<text transform="translate(328.1 849.93) scale(1.08 1)" text-anchor="end" style="font-size:10.3px">0</text>
<text transform="translate(328.1 820.61) scale(1.08 1)" text-anchor="end" style="font-size:10.3px">20</text>
<text transform="translate(328.1 791.29) scale(1.08 1)" text-anchor="end" style="font-size:10.3px">40</text>
<text transform="translate(328.1 761.97) scale(1.08 1)" text-anchor="end" style="font-size:10.3px">60</text>
<text transform="translate(328.1 732.65) scale(1.08 1)" text-anchor="end" style="font-size:10.3px">80</text>
<text transform="translate(328.1 703.33) scale(1.08 1)" text-anchor="end" style="font-size:10.3px">100</text>
<path d="M337.1 853.6H512.9" class="ax"/>
<path d="M338.1 853.6V858.1M372.86 853.6V858.1M407.62 853.6V858.1M442.38 853.6V858.1M477.14 853.6V858.1M511.9 853.6V858.1" class="ax"/>
<text transform="translate(338.1 871.36) scale(1.08 1)" text-anchor="middle" style="font-size:10.3px">0</text>
<text transform="translate(372.86 871.36) scale(1.08 1)" text-anchor="middle" style="font-size:10.3px">12</text>
<text transform="translate(407.62 871.36) scale(1.08 1)" text-anchor="middle" style="font-size:10.3px">24</text>
<text transform="translate(442.38 871.36) scale(1.08 1)" text-anchor="middle" style="font-size:10.3px">36</text>
<text transform="translate(477.14 871.36) scale(1.08 1)" text-anchor="middle" style="font-size:10.3px">48</text>
<text transform="translate(511.9 871.36) scale(1.08 1)" text-anchor="middle" style="font-size:10.3px">60</text>
<text transform="translate(345.16 887.49) scale(1.05 1)" style="font-size:12.4px">Months since randomization</text>
<text transform="translate(307.63 802.19) rotate(-90) scale(1.1 1)" style="font-size:11.9px">OS (%)</text>
<text transform="translate(282.27 706.45)" style="font-size:25px;font-weight:bold;fill:#000">H</text>
<text transform="translate(456.77 709.23) scale(1.07 1)" style="font-size:11.9px">p=0.055</text>
<path d="M344.6 825.4H361.1" class="lg"/>
<path d="M344.6 842.2H361.1" class="lg" style="stroke:#dc0009"/>
<text transform="translate(366.13 828.5) scale(1.1 1)" style="font-size:10.7px">no del(13q) only</text>
<text transform="translate(366.43 845.3) scale(1.1 1)" style="font-size:10.7px">del(13q) only</text>
<path d="M337.9 701 L339.17 701 L339.17 702.17 L341.7 702.17 L341.7 703.33 L344.23 703.33 L344.23 704.5 L345.5 704.5 L346.75 704.5 L346.75 705.58 L349.25 705.58 L349.25 706.67 L351.75 706.67 L351.75 707.75 L353 707.75 L363 708.5 L364.5 708.5 L364.5 708.7 L367.5 708.7 L367.5 708.9 L370.5 708.9 L370.5 709.1 L373.5 709.1 L373.5 709.3 L376.5 709.3 L376.5 709.5 L378 709.5 L379.5 709.5 L379.5 709.8 L382.5 709.8 L382.5 710.1 L385.5 710.1 L385.5 710.4 L388.5 710.4 L388.5 710.7 L391.5 710.7 L391.5 711 L393 711 L411.5 711.5 L412.95 711.5 L412.95 712.55 L415.85 712.55 L415.85 713.6 L418.75 713.6 L418.75 714.65 L421.65 714.65 L421.65 715.7 L423.1 715.7 L424.48 715.7 L424.48 716.02 L427.24 716.02 L427.24 716.34 L430 716.34 L430 716.66 L432.76 716.66 L432.76 716.98 L435.52 716.98 L435.52 717.3 L436.9 717.3 L438.45 717.3 L438.45 719.4 L440 719.4 L441.1 719.4 L441.1 720.1 L443.3 720.1 L443.3 720.8 L444.4 720.8 L469.2 721.1 L469.2 723.8 L512 723.8 L512 737.2" class="cv" stroke="#000" stroke-width="2.5"/>
<path d="M337.9 701 L339.17 701 L339.17 701.33 L341.7 701.33 L341.7 701.67 L344.23 701.67 L344.23 702 L345.5 702 L356.75 702 L357.38 702 L357.38 705.25 L358 705.25 L359.67 705.25 L359.67 706.08 L363 706.08 L363 706.92 L366.33 706.92 L366.33 707.75 L368 707.75 L369.25 707.75 L369.25 708.56 L371.75 708.56 L371.75 709.38 L374.25 709.38 L374.25 710.19 L376.75 710.19 L376.75 711 L378 711 L390.5 711 L391.75 711 L391.75 711.33 L394.25 711.33 L394.25 711.67 L396.75 711.67 L396.75 712 L398 712 L411.5 712 L412.95 712 L412.95 713.33 L415.85 713.33 L415.85 714.65 L418.75 714.65 L418.75 715.97 L421.65 715.97 L421.65 717.3 L423.1 717.3 L424.45 717.3 L424.45 719.07 L427.15 719.07 L427.15 720.83 L429.85 720.83 L429.85 722.6 L431.2 722.6 L453.2 722.6 L453.9 725.2 L455 725.2 L455 726.7 L456.1 726.7 L456.8 726.7 L456.8 728.9 L457.5 728.9 L458.6 728.9 L458.6 731.1 L459.7 731.1 L460.8 731.1 L460.8 732.5 L461.9 732.5 L470 732.5 L470.7 735.5 L471.4 738.4 L475.1 739.1 L475.45 739.1 L475.45 742.05 L476.15 742.05 L476.15 745 L476.5 745 L486.8 745.7 L487.5 750.1 L494.1 750.8 L494.1 758.1 L512 758.1" class="cv" stroke="#dc0009" stroke-width="2.5"/>
</svg>
</div>
</body></html>
